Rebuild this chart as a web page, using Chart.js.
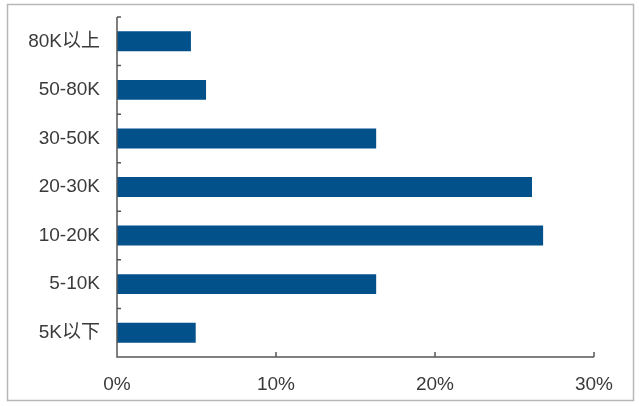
<!DOCTYPE html>
<html><head><meta charset="utf-8">
<script src="https://cdn.jsdelivr.net/npm/chart.js@4/dist/chart.umd.min.js"></script>
<style>html,body{margin:0;padding:0;background:#fff}#wrap{width:639px;height:406px;position:relative}</style>
</head><body><div id="wrap"><canvas id="c" width="639" height="406"></canvas></div>
<script>
const categories = ["80K以上","50-80K","30-50K","20-30K","10-20K","5-10K","5K以下"];
const shares = [4.65, 5.6, 16.3, 26.1, 26.8, 16.3, 4.95];
const xTicks = [0, 10, 20, 30];
const FONT = "'Liberation Sans', Arial, 'Noto Sans CJK SC', sans-serif";
const AXIS = '#555555';

const frame = {
  id: 'frame',
  beforeDraw(chart) {
    const ctx = chart.ctx;
    ctx.save();
    ctx.fillStyle = '#fff';
    ctx.fillRect(0, 0, chart.width, chart.height);
    ctx.strokeStyle = '#b8b8b8';
    ctx.lineWidth = 1.5;
    ctx.strokeRect(7.5, 4.5, 626, 396);
    ctx.restore();
  },
  afterDraw(chart) {
    const ctx = chart.ctx, xs = chart.scales.x, ys = chart.scales.y;
    const left = xs.getPixelForValue(0), bottom = ys.bottom;
    ctx.save();
    ctx.strokeStyle = AXIS;
    ctx.lineWidth = 1.5;
    ctx.beginPath();
    ctx.moveTo(left, ys.top); ctx.lineTo(left, bottom);
    ctx.lineTo(xs.getPixelForValue(30), bottom);
    for (let i = 0; i <= categories.length; i++) {
      const y = ys.getPixelForValue(i - 0.5);
      ctx.moveTo(left, y); ctx.lineTo(left + 4, y);
    }
    xTicks.forEach(v => {
      const x = xs.getPixelForValue(v);
      ctx.moveTo(x, bottom); ctx.lineTo(x, bottom - 5);
    });
    ctx.stroke();
    ctx.restore();
  }
};

new Chart(document.getElementById('c'), {
  type: 'bar',
  data: { labels: categories, datasets: [{ data: shares, backgroundColor: '#02518B', categoryPercentage: 1, barPercentage: 0.41 }] },
  options: {
    indexAxis: 'y', responsive: false, animation: false,
    layout: { padding: { top: 17, right: 45, left: 0, bottom: 0 } },
    plugins: { legend: { display: false }, tooltip: { enabled: false } },
    scales: {
      x: {
        min: 0, max: 30,
        afterBuildTicks(s) { s.ticks = xTicks.map(v => ({ value: v })); },
        afterFit(s) { s.height = 49; },
        grid: { display: false, drawTicks: false },
        border: { display: false },
        ticks: { padding: 16, color: '#3a3a3a', font: { family: FONT, size: 19 }, callback: v => v + '%', maxRotation: 0 }
      },
      y: {
        afterFit(s) { s.width = 117; s.paddingTop = 0; s.paddingBottom = 0; },
        grid: { display: false, drawTicks: false, offset: true },
        border: { display: false },
        ticks: { padding: 17, color: '#3a3a3a', font: { family: FONT, size: 19 } }
      }
    }
  },
  plugins: [frame]
});
</script></body></html>
